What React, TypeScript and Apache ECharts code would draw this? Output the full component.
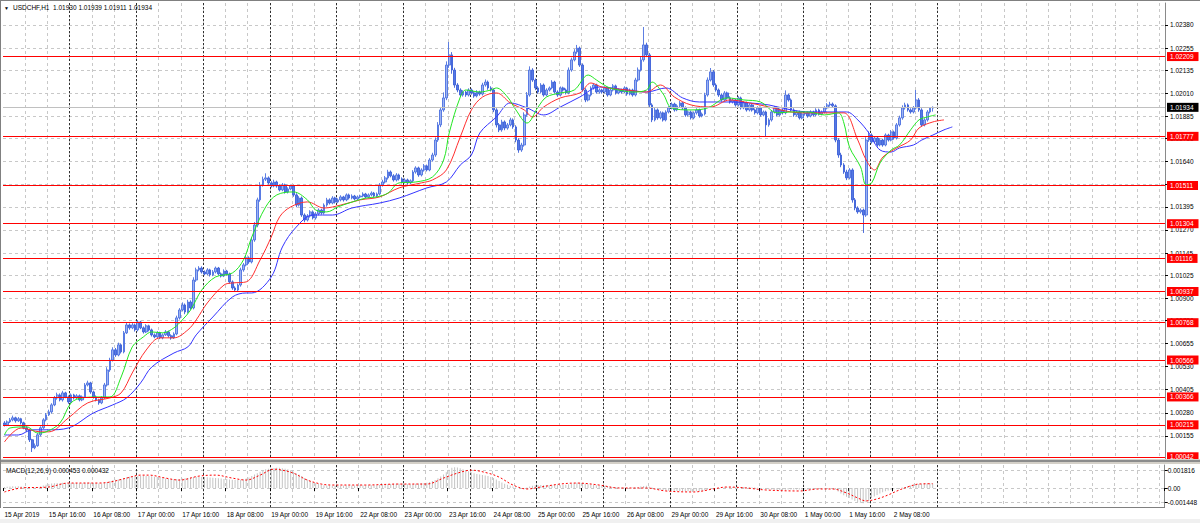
import React, { useEffect, useRef } from "react";
import * as echarts from "echarts";

// Prices are stored in points above 1.00000 (1 point = 0.00001)
const opens = [
  225,215,231,242,253,237,248,226,199,188,134,91,102,161,199,242,269,285,323,361,377,350,388,366,
  339,377,361,372,350,366,431,442,393,366,350,334,361,431,512,566,621,593,648,610,713,756,740,756,
  729,772,740,718,751,729,702,691,713,686,702,718,697,686,707,794,837,864,826,880,848,999,1054,1064,
  1043,1032,1054,1027,1043,1064,1032,1021,1048,1032,989,956,945,972,1054,1081,1119,1097,1216,1297,1433,1514,1545,1552,
  1525,1508,1530,1508,1487,1514,1476,1492,1508,1460,1405,1443,1351,1324,1346,1368,1335,1357,1378,1362,1405,1433,1416,1443,
  1422,1433,1449,1433,1460,1443,1454,1438,1449,1454,1465,1449,1460,1470,1454,1465,1514,1530,1552,1584,1563,1541,1568,1547,
  1530,1541,1525,1536,1584,1606,1568,1595,1617,1595,1649,1676,1757,1839,1920,1985,2163,2218,2136,2055,2028,2001,2017,2001,
  2028,2012,1996,2017,2006,2055,2071,2039,2028,1920,1839,1812,1855,1822,1839,1866,1828,1757,1703,1730,1893,2001,2136,2082,
  2039,2017,2055,2001,2028,2039,2071,2017,2001,2039,2028,2012,2136,2191,2234,2255,2163,2028,1974,2001,2039,2055,2017,2028,
  2017,2039,2001,2028,2050,2012,2028,2017,2039,2006,2028,2001,2082,2136,2191,2272,2218,1947,1866,1920,1877,1904,1866,1909,
  1931,1952,1920,1942,1958,1931,1893,1909,1877,1904,1920,1887,1898,2001,2082,2126,2055,2028,2001,1974,2012,1985,1963,1974,
  1947,1985,1931,1958,1920,1947,1920,1904,1931,1893,1909,1839,1866,1909,1931,1893,1920,1904,2001,1974,1920,1893,1909,1877,
  1898,1904,1887,1909,1893,1920,1898,1909,1931,1947,1952,1942,1757,1676,1622,1584,1552,1595,1433,1389,1368,1378,1351,1757,
  1784,1747,1768,1730,1757,1730,1784,1757,1801,1768,1839,1877,1931,1947,1920,1909,1931,1974,1920,1839,1866,1909,1930
];
const closes = [
  215,231,242,253,237,248,226,199,188,134,91,102,161,199,242,269,285,323,361,377,350,388,366,339,
  377,361,372,350,366,431,442,393,366,350,334,361,431,512,566,621,593,648,610,713,756,740,756,729,
  772,740,718,751,729,702,691,713,686,702,718,697,686,707,794,837,864,826,880,848,999,1054,1064,1043,
  1032,1054,1027,1043,1064,1032,1021,1048,1032,989,956,945,972,1054,1081,1119,1097,1216,1297,1433,1514,1545,1552,1525,
  1508,1530,1508,1487,1514,1476,1492,1508,1460,1405,1443,1351,1324,1346,1368,1335,1357,1378,1362,1405,1433,1416,1443,1422,
  1433,1449,1433,1460,1443,1454,1438,1449,1454,1465,1449,1460,1470,1454,1465,1514,1530,1552,1584,1563,1541,1568,1547,1530,
  1541,1525,1536,1584,1606,1568,1595,1617,1595,1649,1676,1757,1839,1920,1985,2163,2218,2136,2055,2028,2001,2017,2001,2028,
  2012,1996,2017,2006,2055,2071,2039,2028,1920,1839,1812,1855,1822,1839,1866,1828,1757,1703,1730,1893,2001,2136,2082,2039,
  2017,2055,2001,2028,2039,2071,2017,2001,2039,2028,2012,2136,2191,2234,2255,2163,2028,1974,2001,2039,2055,2017,2028,2017,
  2039,2001,2028,2050,2012,2028,2017,2039,2006,2028,2001,2082,2136,2191,2272,2218,1947,1866,1920,1877,1904,1866,1909,1931,
  1952,1920,1942,1958,1931,1893,1909,1877,1904,1920,1887,1898,2001,2082,2126,2055,2028,2001,1974,2012,1985,1963,1974,1947,
  1985,1931,1958,1920,1947,1920,1904,1931,1893,1909,1839,1866,1909,1931,1893,1920,1904,2001,1974,1920,1893,1909,1877,1898,
  1904,1887,1909,1893,1920,1898,1909,1931,1947,1952,1942,1757,1676,1622,1584,1552,1595,1433,1389,1368,1378,1351,1757,1784,
  1747,1768,1730,1757,1730,1784,1757,1801,1768,1839,1877,1931,1947,1920,1909,1931,1974,1920,1839,1866,1909,1930,1934
];
const highs = [
  235,239,252,265,259,257,253,232,207,194,139,114,171,207,251,279,297,332,371,389,385,399,394,374,
  385,383,381,379,374,441,454,448,400,374,356,370,442,527,578,635,631,660,656,723,768,764,766,763,
  782,778,748,760,757,736,710,722,719,710,728,725,705,716,806,847,878,872,892,889,1014,1066,1074,1073,
  1051,1063,1060,1053,1072,1070,1040,1057,1054,1039,997,965,980,1066,1091,1131,1127,1230,1313,1445,1529,1559,1577,1560,
  1534,1542,1537,1516,1524,1521,1501,1516,1515,1469,1453,1451,1360,1356,1377,1376,1367,1387,1385,1414,1444,1441,1453,1450,
  1441,1458,1455,1468,1467,1463,1460,1457,1461,1474,1471,1468,1479,1476,1473,1524,1542,1562,1596,1592,1572,1578,1575,1555,
  1550,1548,1544,1594,1615,1613,1604,1627,1624,1659,1688,1771,1854,1934,2015,2183,2288,2233,2148,2065,2037,2027,2024,2037,
  2036,2021,2027,2024,2067,2085,2079,2048,2036,1929,1849,1867,1863,1849,1878,1874,1837,1767,1742,1907,2017,2156,2146,2091,
  2048,2065,2063,2037,2047,2081,2078,2026,2047,2046,2036,2150,2203,2249,2272,2263,2172,2038,2010,2048,2065,2062,2037,2035,
  2047,2046,2037,2060,2057,2036,2035,2048,2045,2036,2035,2094,2150,2207,2369,2284,2228,1956,1930,1928,1913,1911,1918,1941,
  1961,1959,1951,1968,1964,1939,1918,1916,1912,1929,1927,1906,2013,2096,2147,2136,2064,2036,2010,2022,2019,1994,1983,1981,
  1994,1992,1967,1965,1956,1954,1928,1940,1938,1917,1916,1875,1918,1941,1938,1928,1927,2026,2009,1982,1929,1917,1916,1907,
  1912,1911,1918,1916,1929,1927,1917,1940,1957,1964,1960,1950,1767,1688,1632,1596,1605,1604,1443,1398,1387,1386,1772,1804,
  1793,1778,1775,1766,1764,1793,1791,1811,1808,1849,1889,1945,1959,1955,1929,1941,2028,1984,1929,1875,1919,1935,1939
];
const lows = [
  206,208,225,234,227,231,217,191,178,122,68,83,96,152,192,234,263,276,316,351,342,341,359,329,
  331,352,355,342,343,360,423,383,357,342,324,327,355,422,502,558,583,586,601,602,707,730,733,720,
  721,733,709,712,721,693,684,683,679,678,696,688,676,680,700,785,829,814,818,838,840,989,1046,1034,
  1024,1026,1018,1020,1035,1023,1013,1015,1024,980,946,937,938,963,1044,1073,1087,1089,1206,1285,1423,1505,1535,1516,
  1500,1501,1499,1479,1480,1467,1468,1485,1450,1393,1397,1341,1312,1316,1337,1327,1326,1349,1353,1354,1396,1408,1409,1413,
  1415,1425,1424,1426,1435,1436,1430,1431,1441,1447,1441,1442,1452,1445,1447,1457,1505,1522,1543,1555,1532,1533,1538,1522,
  1522,1516,1518,1528,1575,1558,1560,1586,1587,1588,1640,1666,1747,1827,1910,1973,2148,2116,2040,2016,1991,1992,1991,1993,
  2003,1986,1988,1997,1998,2046,2029,2020,1908,1825,1800,1802,1810,1813,1831,1818,1745,1688,1693,1721,1883,1992,2072,2027,
  2008,2009,1992,1994,2020,2032,2008,1991,1993,2019,2004,2005,2127,2183,2224,2153,2019,1962,1966,1993,2030,2008,2009,2008,
  2009,1992,1994,2020,2003,2005,2009,2010,1997,1999,1992,1993,2073,2128,2181,2206,1932,1854,1858,1867,1869,1857,1858,1901,
  1923,1911,1913,1934,1922,1883,1885,1868,1869,1895,1878,1880,1890,1992,2074,2045,2019,1991,1965,1966,1976,1954,1955,1938,
  1939,1922,1924,1911,1912,1911,1895,1896,1884,1885,1774,1829,1857,1901,1884,1885,1895,1896,1965,1911,1883,1885,1868,1869,
  1889,1878,1880,1885,1886,1890,1891,1901,1923,1938,1932,1745,1661,1610,1574,1540,1544,1418,1377,1358,1359,1254,1341,1747,
  1738,1739,1721,1723,1721,1723,1749,1750,1759,1760,1830,1867,1922,1911,1900,1901,1922,1910,1829,1831,1857,1901,1911
];

// Alligator lines, read as [bar index, points] pairs (lines are shifted forward)
const lipsGreen = [[0,160],[2,198],[8,204],[12,171],[15,177],[20,225],[24,334],[28,361],[34,366],[38,366],[42,474],[46,637],[50,691],[53,718],[57,713],[61,740],[64,783],[67,837],[71,945],[76,1016],[82,1037],[86,1108],[89,1232],[94,1395],[98,1460],[104,1476],[109,1433],[112,1378],[116,1368],[120,1395],[124,1416],[130,1443],[134,1449],[138,1470],[142,1525],[148,1530],[154,1557],[158,1649],[160,1795],[164,1990],[166,2028],[171,2017],[175,2028],[177,2039],[181,1990],[184,1920],[188,1849],[192,1936],[195,1990],[200,2012],[205,2028],[210,2109],[213,2082],[217,2044],[221,2028],[226,2017],[231,2028],[233,2071],[237,2006],[240,1931],[247,1920],[253,1931],[260,1985],[266,1974],[272,1963],[278,1904],[283,1909],[289,1909],[295,1893],[300,1904],[302,1849],[304,1719],[308,1611],[310,1514],[312,1525],[315,1633],[319,1703],[322,1730],[326,1812],[329,1866],[332,1882],[335,1893]];
const teethRed = [[0,122],[6,198],[13,177],[16,177],[23,252],[30,334],[38,361],[42,388],[46,496],[51,620],[56,686],[61,686],[66,729],[69,783],[73,875],[79,972],[82,983],[87,989],[92,1108],[96,1232],[99,1341],[103,1395],[109,1422],[115,1389],[121,1405],[128,1433],[135,1449],[142,1498],[150,1525],[154,1541],[159,1595],[164,1774],[168,1920],[172,1990],[177,2012],[182,1958],[187,1920],[190,1882],[194,1936],[200,1985],[207,2012],[211,2066],[215,2044],[224,2028],[231,2017],[236,2055],[241,1990],[247,1947],[254,1936],[261,1974],[268,1958],[275,1936],[283,1909],[290,1904],[297,1904],[302,1904],[307,1757],[310,1649],[313,1595],[316,1665],[321,1714],[326,1757],[329,1822],[334,1855],[338,1866]];
const jawBlue = [[0,160],[5,160],[10,188],[16,188],[23,198],[32,279],[39,323],[44,361],[49,442],[53,528],[61,604],[66,637],[69,702],[75,799],[82,907],[87,929],[89,929],[96,1016],[100,1178],[105,1286],[111,1351],[118,1351],[125,1389],[135,1416],[142,1443],[152,1498],[159,1530],[164,1622],[168,1676],[171,1795],[177,1882],[182,1958],[188,1931],[194,1893],[200,1936],[207,1990],[214,2044],[224,2028],[231,2017],[238,2039],[244,1985],[250,1963],[261,1963],[268,1958],[275,1947],[283,1920],[290,1909],[297,1909],[303,1909],[307,1866],[311,1795],[315,1703],[319,1692],[322,1714],[327,1730],[330,1757],[334,1784],[338,1812],[341,1828]];

// MACD (units of 0.000001)
const macdHist = [
  100,120,150,180,160,170,150,120,90,50,20,30,80,150,250,330,400,450,480,500,490,520,510,490,
  500,510,500,490,480,520,540,520,500,480,450,460,500,600,700,780,830,870,920,1000,1080,1130,1160,1180,
  1200,1220,1230,1220,1200,1180,1130,1100,1050,1000,960,920,900,890,900,920,950,980,1000,1060,1100,1120,1120,1110,
  1100,1080,1060,1040,1010,980,950,920,900,870,840,820,820,840,880,950,1050,1200,1350,1500,1650,1780,1880,1950,
  2000,2030,2050,2040,2000,1950,1880,1780,1650,1500,1350,1200,1000,850,700,580,480,400,330,290,260,240,230,220,
  220,230,240,250,250,260,260,270,270,280,280,280,280,290,290,300,320,350,380,400,420,430,430,420,
  400,380,380,400,420,450,470,500,540,600,700,820,980,1150,1350,1600,1850,2050,2100,2080,2000,1900,1800,1700,
  1600,1500,1420,1350,1300,1250,1200,1120,1000,850,700,560,430,320,220,140,60,0,-40,-20,60,150,230,280,
  300,310,300,300,290,290,300,300,290,300,320,370,430,480,520,520,480,420,380,350,320,290,260,230,
  200,170,140,110,90,70,50,40,30,20,30,60,100,150,200,220,150,50,-50,-120,-180,-220,-250,-270,
  -280,-290,-300,-310,-320,-330,-330,-340,-340,-330,-320,-300,-250,-180,-100,-50,-20,0,20,40,60,70,80,80,
  80,90,90,80,70,60,40,20,0,-30,-80,-130,-160,-180,-190,-200,-190,-170,-150,-140,-140,-150,-160,-170,
  -160,-150,-140,-130,-110,-90,-70,-50,-30,-20,-20,-150,-350,-550,-720,-880,-1000,-1150,-1300,-1420,-1500,-1550,-1450,-1300,
  -1000,-850,-700,-560,-440,-340,-260,-190,-130,-70,-20,40,110,180,250,310,360,400,430,450,460,455,453
];
const macdSignal = [[0,-400],[6,0],[16,100],[23,500],[34,500],[38,600],[44,1000],[49,1300],[52,1300],[58,1000],[63,800],[70,1200],[76,1300],[82,1000],[87,800],[92,1300],[97,1900],[100,1800],[104,1500],[109,800],[114,400],[118,300],[130,300],[142,400],[152,400],[158,1000],[163,1500],[168,1800],[174,1500],[178,1100],[183,300],[188,-100],[193,100],[200,400],[206,500],[214,300],[221,0],[231,0],[238,-300],[248,-400],[255,-100],[260,100],[267,0],[274,-200],[286,-300],[293,-100],[298,-100],[303,-500],[307,-1000],[310,-1300],[314,-1100],[318,-700],[322,-200],[326,200],[329,400],[334,432]];

const levelLines = [2209, 1777, 1511, 1304, 1116, 937, 768, 566, 366, 215, 42];
const currentPrice = 1934;
const priceTickLabels = ["1.02380","1.02255","1.02135","1.02010","1.01885","1.01765","1.01640","1.01515","1.01395","1.01270","1.01145","1.01025","1.00900","1.00780","1.00655","1.00530","1.00405","1.00280","1.00155"];
const macdTicks = [1816, 0, -1448];
const macdTickLabels = ["0.001816", "0.00", "-0.001448"];
const timeLabels = ["15 Apr 2019","15 Apr 16:00","16 Apr 08:00","17 Apr 00:00","17 Apr 16:00","18 Apr 08:00","19 Apr 00:00","19 Apr 16:00","22 Apr 08:00","23 Apr 00:00","23 Apr 16:00","24 Apr 08:00","25 Apr 00:00","25 Apr 16:00","26 Apr 08:00","29 Apr 00:00","29 Apr 16:00","30 Apr 08:00","1 May 00:00","1 May 16:00","2 May 08:00"];
const headerText = "USDCHF,H1  1.01930 1.01939 1.01911 1.01934";
const macdHeader = "MACD(12,26,9) 0.000453 0.000432";
const SLOTS = 418;

const FONT = "Liberation Sans, Arial, sans-serif";
const FS = 6.5;

function fmt(v: number) {
  return (1 + v / 100000).toFixed(5);
}

export default function App() {
  const ref = useRef<HTMLDivElement>(null);
  useEffect(() => {
    const chart = echarts.init(ref.current!, null, { renderer: "svg" });
    const cats = Array.from({ length: SLOTS }, (_, i) => String(i));
    const priceTickValues = priceTickLabels.map((s) => Math.round((parseFloat(s) - 1) * 100000));
    const lightSplit = {
      show: true,
      interval: (i: number) => i % 8 === 0 && i > 0,
      lineStyle: { color: "#c8c8c8", type: [3, 3], width: 1 },
    };
    const darkSplit = {
      show: true,
      interval: (i: number) => i % 24 === 0 && i > 0 && i <= 336,
      lineStyle: { color: "#303030", type: [2, 2], width: 1 },
    };
    const baseX = (gridIndex: number) => ({
      type: "category",
      gridIndex,
      data: cats,
      boundaryGap: true,
      axisLine: { show: false },
      axisTick: { show: false },
      axisLabel: { show: false },
    });
    const candleData = opens.map((o, i) => [o, closes[i], lows[i], highs[i]]);
    const labelCommon = {
      show: true,
      position: "end",
      distance: 2,
      fontSize: FS,
      fontFamily: FONT,
      color: "#ffffff",
      padding: [1, 5, 1, 3],
    };
    const markData: any[] = levelLines.map((v) => ({
      yAxis: v,
      lineStyle: { color: "#ff0000", width: 1, type: "solid" },
      label: { ...labelCommon, formatter: fmt(v), backgroundColor: "#ff0000" },
    }));
    markData.unshift({
      yAxis: currentPrice,
      lineStyle: { color: "#c0c0c0", width: 1, type: "solid" },
      label: { ...labelCommon, formatter: fmt(currentPrice), backgroundColor: "#000000" },
    });
    const maLine = (data: number[][], color: string) => ({
      type: "line",
      xAxisIndex: 0,
      yAxisIndex: 0,
      data,
      smooth: 0.35,
      showSymbol: false,
      symbol: "none",
      z: 4,
      lineStyle: { color, width: 1 },
    });

    const option: any = {
      animation: false,
      backgroundColor: "#ffffff",
      textStyle: { fontFamily: FONT },
      grid: [
        { left: 3, right: 35, top: 3, height: 456 },
        { left: 3, right: 35, top: 465, height: 42 },
      ],
      xAxis: [
        { ...baseX(0), splitLine: lightSplit },
        { ...baseX(0), splitLine: darkSplit },
        {
          ...baseX(1),
          splitLine: lightSplit,
          axisLabel: {
            show: true,
            interval: (i: number) => i % 16 === 0 && i <= 320,
            formatter: (_v: string, i: number) => timeLabels[Math.round(i / 16)] || "",
            align: "left",
            fontSize: FS,
            fontFamily: FONT,
            color: "#000000",
            margin: 4,
          },
          axisTick: {
            show: true,
            interval: (i: number) => i % 16 === 0 && i <= 320,
            length: 3,
            lineStyle: { color: "#000000" },
          },
        },
        { ...baseX(1), splitLine: darkSplit },
      ],
      yAxis: [
        {
          type: "value",
          gridIndex: 0,
          position: "right",
          min: 30,
          max: 2499,
          axisLine: { show: true, lineStyle: { color: "#8a8a8a" } },
          axisTick: { show: true, customValues: priceTickValues, length: 3, lineStyle: { color: "#000" } },
          axisLabel: {
            customValues: priceTickValues,
            formatter: (v: number) => fmt(v),
            fontSize: FS,
            fontFamily: FONT,
            color: "#000000",
            margin: 5,
          },
          splitLine: { show: true, lineStyle: { color: "#c8c8c8", type: [3, 3] } },
        },
        {
          type: "value",
          gridIndex: 1,
          position: "right",
          min: -1917,
          max: 2321,
          axisLine: { show: true, lineStyle: { color: "#8a8a8a" } },
          axisTick: { show: true, customValues: macdTicks, length: 3, lineStyle: { color: "#000" } },
          axisLabel: {
            customValues: macdTicks,
            formatter: (v: number) => macdTickLabels[macdTicks.indexOf(v)] ?? "",
            fontSize: FS,
            fontFamily: FONT,
            color: "#000000",
            margin: 3,
          },
          splitLine: { show: true, lineStyle: { color: "#c8c8c8", type: [3, 3] } },
        },
      ],
      series: [
        {
          type: "candlestick",
          xAxisIndex: 0,
          yAxisIndex: 0,
          data: candleData,
          barWidth: 2.2,
          z: 3,
          itemStyle: {
            color: "#9cb3f2",
            color0: "#5579e4",
            borderColor: "#4c70e0",
            borderColor0: "#3c60d8",
            borderWidth: 0.9,
          },
          markLine: {
            silent: true,
            symbol: ["none", "none"],
            animation: false,
            data: markData,
          },
        },
        maLine(jawBlue, "#3434ff"),
        maLine(teethRed, "#ff2e2e"),
        maLine(lipsGreen, "#22e622"),
        {
          type: "bar",
          xAxisIndex: 2,
          yAxisIndex: 1,
          data: macdHist,
          barWidth: 1,
          itemStyle: { color: "#c4c4c4" },
        },
        {
          type: "line",
          xAxisIndex: 2,
          yAxisIndex: 1,
          data: macdSignal,
          smooth: 0.35,
          showSymbol: false,
          symbol: "none",
          z: 4,
          lineStyle: { color: "#ff0000", width: 1, type: [2, 2] },
        },
      ],
      graphic: [
        { type: "rect", left: 0, top: 459, shape: { width: 1200, height: 5 }, style: { fill: "#d4d0c8" }, z: 10 },
        { type: "rect", left: 0, top: 460, shape: { width: 1200, height: 2 }, style: { fill: "#8c8c8c" }, z: 10 },
        { type: "rect", left: 0, top: 519, shape: { width: 1200, height: 4 }, style: { fill: "#f0f0f0" }, z: 10 },
        { type: "line", shape: { x1: 0.5, y1: 0, x2: 0.5, y2: 508 }, style: { stroke: "#808080", lineWidth: 1 }, z: 10 },
        { type: "line", shape: { x1: 0, y1: 0.5, x2: 1200, y2: 0.5 }, style: { stroke: "#808080", lineWidth: 1 }, z: 10 },
        { type: "line", shape: { x1: 3, y1: 507.5, x2: 1165, y2: 507.5 }, style: { stroke: "#808080", lineWidth: 1 }, z: 10 },
        { type: "text", left: 4, top: 5, style: { text: "▼", fontSize: 5, fill: "#000", fontFamily: FONT }, z: 11 },
        { type: "text", left: 13, top: 4, style: { text: headerText, fontSize: FS, fill: "#000", fontFamily: FONT }, z: 11 },
        { type: "text", left: 6, top: 467, style: { text: macdHeader, fontSize: FS, fill: "#000", fontFamily: FONT }, z: 11 },
      ],
    };
    chart.setOption(option);
    return () => chart.dispose();
  }, []);
  return (
    <div
      ref={ref}
      style={{ position: "fixed", left: 0, top: 0, width: 1200, height: 523, background: "#ffffff" }}
    />
  );
}
